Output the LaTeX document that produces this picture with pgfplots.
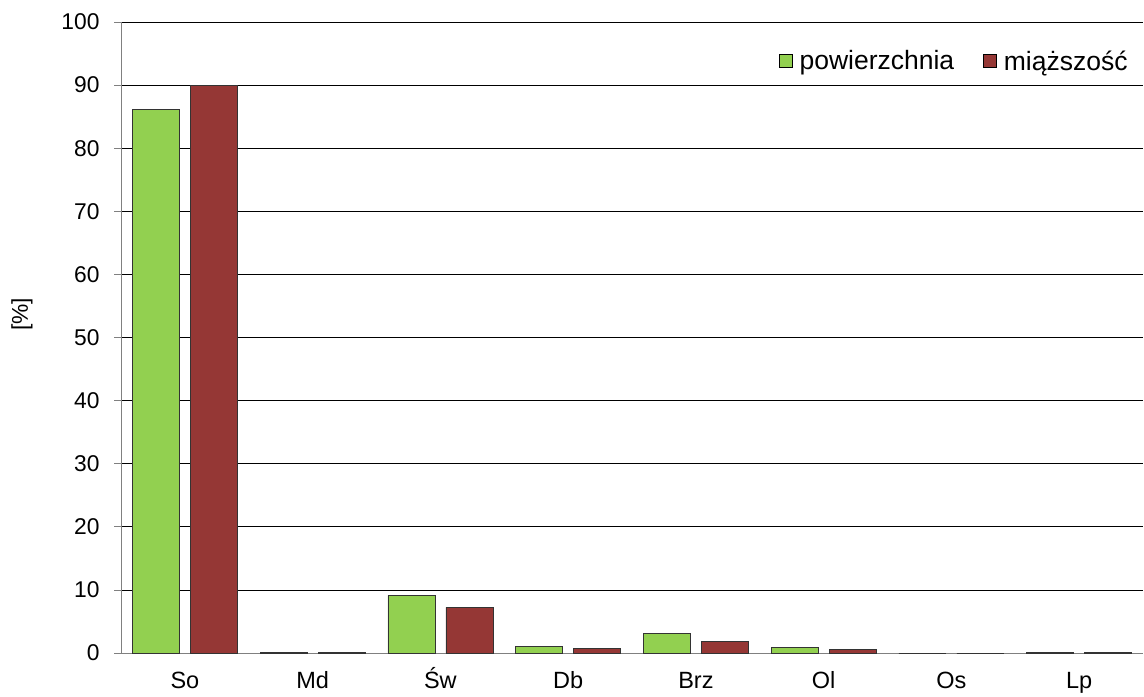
\documentclass[border=0pt]{standalone}
\usepackage{pgfplots}
\pgfplotsset{compat=1.18}
\usepackage{fontspec}
\setmainfont{Liberation Sans}
\definecolor{cgreen}{RGB}{146,208,80}
\definecolor{cred}{RGB}{149,55,53}
\definecolor{axgray}{RGB}{128,128,128}
\begin{document}
\begin{tikzpicture}
\begin{axis}[
  name=ax,
  scale only axis,
  width=1022pt, height=631pt,
  ybar=11pt, bar width=47pt,
  xmin=-0.5, xmax=7.5,
  ymin=0, ymax=100,
  ytick={0,10,...,100},
  xtick={0,...,7},
  xticklabels={So,Md,Św,Db,Brz,Ol,Os,Lp},
  major x tick style={draw=none},
  extra x ticks={-0.5,0.5,...,7.5},
  extra x tick labels={},
  extra x tick style={major tick length=7pt, tick style={draw=axgray, line width=0.8pt}, grid=none},
  tick align=outside,
  major tick length=7pt,
  ytick style={draw=axgray, line width=0.8pt},
  axis lines*=left,
  axis line style={draw=axgray, line width=0.8pt},
  ymajorgrids,
  grid style={draw=black, line width=0.7pt},
  /pgf/number format/assume math mode=true,
  tick label style={font=\fontsize{22.8}{24}\selectfont},
  yticklabel style={xshift=-11pt},
  xticklabel style={font=\fontsize{23.5}{25}\selectfont, anchor=north, text height=17pt, text depth=5pt, yshift=-8pt},
  ylabel={[\%]},
  ylabel style={font=\fontsize{22.8}{24}\selectfont, at={(axis description cs:0,0.5)}, anchor=center, yshift=99pt, xshift=23pt},
  legend columns=2,
  legend style={draw=none, fill=none, at={(0.989,0.938)}, anchor=east,
    font=\fontsize{26.5}{28}\selectfont, column sep=5pt, inner sep=2pt,
    /tikz/every even column/.append style={column sep=27pt}},
  legend image code/.code={\draw[#1, draw=black, line width=0.6pt] (0pt,-6.5pt) rectangle (13pt,6.5pt);},
]
\addplot[fill=cgreen, draw=black!80, line width=0.7pt] coordinates {(0,86.1) (1,0.05) (2,9.15) (3,1.05) (4,3.05) (5,0.9) (6,0) (7,0.05)};
\addplot[fill=cred, draw=black!80, line width=0.7pt] coordinates {(0,89.9) (1,0.05) (2,7.25) (3,0.75) (4,1.85) (5,0.6) (6,0) (7,0.05)};
\legend{powierzchnia, miąższość}
\end{axis}
\pgfresetboundingbox
\useasboundingbox (ax.south west) ++(-121pt,-43pt) rectangle ([shift={(1pt,22pt)}]ax.north east);
\end{tikzpicture}
\end{document}
